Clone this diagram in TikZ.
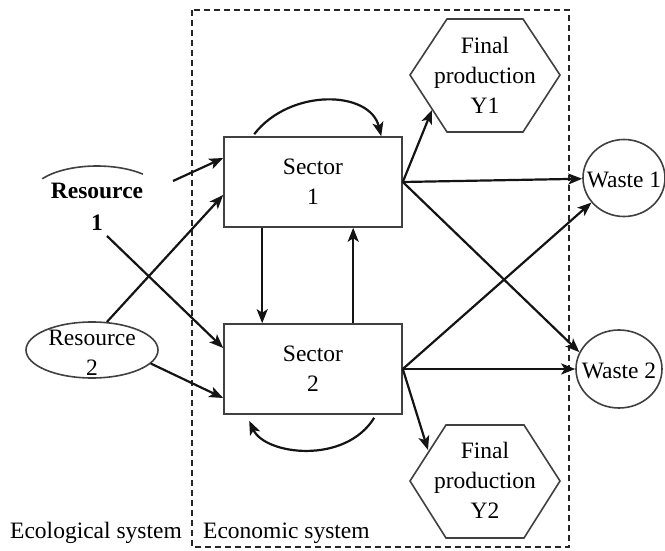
\documentclass[tikz,border=0pt]{standalone}
\usepackage{fontspec}
\setmainfont{Liberation Serif}
\usetikzlibrary{arrows.meta,calc,shapes.geometric}
\begin{document}
\begin{tikzpicture}[x=1pt,y=-1pt,
  every node/.style={font=\fontsize{23.5}{30}\selectfont, text=black},
  arr/.style={-{Stealth[length=14pt,width=11pt,inset=3.5pt]}, line width=2.2pt, draw=black!92},
  shapeline/.style={draw=black!75, line width=1.6pt},
  sectorbox/.style={shapeline, rectangle, minimum width=178pt, minimum height=90pt, inner sep=0pt, align=center},
  ell/.style={shapeline, ellipse, inner sep=0pt},
  txt/.style={align=center, inner sep=0pt},
  sysbox/.style={draw=black!85, line width=1.7pt, dash pattern=on 6pt off 4pt}
]
\useasboundingbox (0,0) rectangle (665,551);

% economic system boundary
\draw[sysbox] (192,10) rectangle (569,547);

% sectors
\node[sectorbox] (s1) at (313,182) {Sector\\1};
\node[sectorbox] (s2) at (313,369) {Sector\\2};

% final production hexagons
\draw[shapeline] (410,75) -- (447,19) -- (523,19) -- (560,75) -- (523,132) -- (447,132) -- cycle;
\node[txt] (y1) at (485,75) {Final\\production\\Y1};
\draw[shapeline] (410,481) -- (446,425) -- (524,425) -- (560,481) -- (524,538) -- (446,538) -- cycle;
\node[txt] (y2) at (485,480) {Final\\production\\Y2};
\coordinate (y1in) at (432,110);
\coordinate (y2in) at (428,450);

% resources
\draw[shapeline] ($(97,195)+(146:66pt and 29pt)$) arc[start angle=146, end angle=46, x radius=66pt, y radius=29pt];
\node[txt, font=\fontsize{23.5}{32}\selectfont\bfseries] (r1) at (97,207) {Resource\\1};
\coordinate (r1a) at (173,181);
\coordinate (r1b) at (107,236);
\node[ell, minimum width=132pt, minimum height=56pt] (r2) at (92,350) {};
\node[txt] (r2t) at (92,353) {Resource\\2};

% wastes
\node[ell, minimum width=82pt, minimum height=77pt] (w1) at (624,178) {};
\node[txt] (w1t) at (624,180) {Waste 1};
\node[ell, minimum width=86pt, minimum height=78pt] (w2) at (619,369) {};
\node[txt] (w2t) at (619,371) {Waste 2};

% inputs
\draw[arr] (r1a) -- ($(s1.west)+(0,-24)$);
\draw[arr] (r1b) -- ($(s2.west)+(0,-21)$);
\draw[arr] (r2.62) -- ($(s1.west)+(0,13)$);
\draw[arr] (r2.-13) -- ($(s2.west)+(0,29)$);

% between sectors
\draw[arr] ($(s1.south west)+(39,0)$) -- ($(s2.north west)+(39,0)$);
\draw[arr] ($(s2.north west)+(130,0)$) -- ($(s1.south west)+(130,0)$);
\draw[arr] ($(s1.north west)+(31,-2)$) .. controls (290,88) and (370,90) .. ($(s1.north west)+(158,0)$);
\draw[arr] ($(s2.south west)+(151,3)$) .. controls (345,465) and (265,455) .. ($(s2.south west)+(26,6)$);

% outputs
\draw[arr] (s1.east) -- (y1in);
\draw[arr] (s1.east) -- (w1);
\draw[arr] (s1.east) -- (w2.157);
\draw[arr] (s2.east) -- (w1.217);
\draw[arr] (s2.east) -- (w2);
\draw[arr] (s2.east) -- (y2in);

% labels
\node[txt, anchor=west] (eco) at (10,533) {Ecological system};
\node[txt, anchor=west] (econ) at (203,533) {Economic system};
\end{tikzpicture}
\end{document}
